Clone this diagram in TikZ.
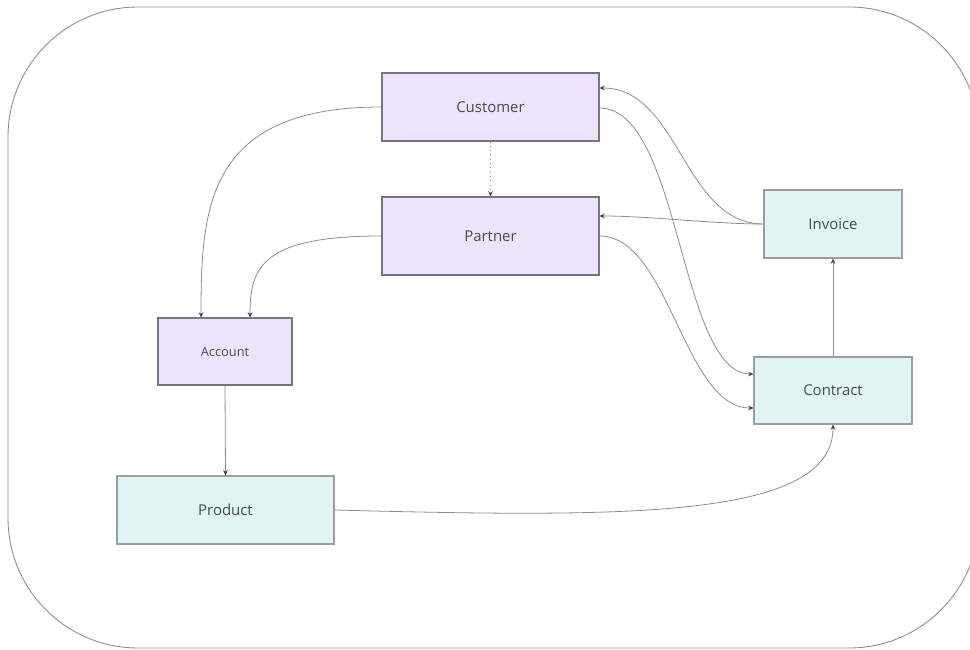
\documentclass[tikz,border=0pt]{standalone}
\usepackage{fontspec}
\setmainfont{Open Sans}
\usetikzlibrary{arrows.meta}
\usetikzlibrary{positioning}

\definecolor{partyfill}{HTML}{EDE4FB}
\definecolor{dealfill}{HTML}{E1F4F4}
\definecolor{boxline}{HTML}{77737F}
\definecolor{dealline}{HTML}{9A9E9E}
\definecolor{linkline}{HTML}{8C8C8C}
\definecolor{labeltext}{HTML}{4A4A4A}

\tikzset{
  party/.style={rectangle,draw=boxline,fill=partyfill,line width=0.6pt,text=labeltext,font=\fontsize{8.5}{10}\selectfont},
  deal/.style={rectangle,draw=dealline,fill=dealfill,line width=0.6pt,text=labeltext,font=\fontsize{8.5}{10}\selectfont},
  link/.style={draw=linkline,line width=0.45pt,-{Stealth[length=3pt,width=2.6pt,color=black!75]}},
  plainlink/.style={draw=linkline,line width=0.45pt}
}

\begin{document}
\begin{tikzpicture}
\useasboundingbox (0,0) rectangle (19.4,-13);
\draw[linkline,line width=0.5pt,rounded corners=2.6cm] (0.16,-0.14) rectangle (19.58,-12.96);

\node[party,minimum width=4.34cm,minimum height=1.36cm] (cust) at (9.81,-2.14) {Customer};
\node[party,minimum width=4.34cm,minimum height=1.56cm] (part) at (9.81,-4.72) {Partner};
\node[party,minimum width=2.68cm,minimum height=1.34cm,font=\fontsize{7.3}{9}\selectfont] (acct) at (4.5,-7.03) {Account};
\node[deal,minimum width=4.34cm,minimum height=1.36cm] (prod) at (4.51,-10.2) {Product};
\node[deal,minimum width=2.76cm,minimum height=1.36cm] (inv) at (16.66,-4.48) {Invoice};
\node[deal,minimum width=3.16cm,minimum height=1.34cm] (cont) at (16.66,-7.81) {Contract};

\draw[link,dotted] (cust.south) -- (part.north);
\draw[link] (cust.west) .. controls +(-3.5,0) and +(0,2.2) .. ([xshift=-0.48cm]acct.north);
\draw[link] (part.west) .. controls +(-2.4,0) and +(0,1.0) .. ([xshift=0.5cm]acct.north);
\draw[link] (acct.south) -- (prod.north);
\draw[link] (prod.east) .. controls +(5.8,-0.15) and +(0,-1.9) .. (cont.south);
\draw[link] (cont.north) -- (inv.south);
\draw[link] (inv.west) .. controls +(-1.6,0) and +(1.6,0) .. ([yshift=0.38cm]cust.east);
\draw[link] (inv.west) .. controls +(-1.0,0) and +(1.0,0) .. ([yshift=0.4cm]part.east);
\draw[link] ([yshift=-0.02cm]cust.east) .. controls +(1.62,0) and +(-1.48,0) .. ([yshift=0.33cm]cont.west);
\draw[link] (part.east) .. controls +(1.4,0) and +(-1.4,0) .. ([yshift=-0.35cm]cont.west);
\end{tikzpicture}
\end{document}
